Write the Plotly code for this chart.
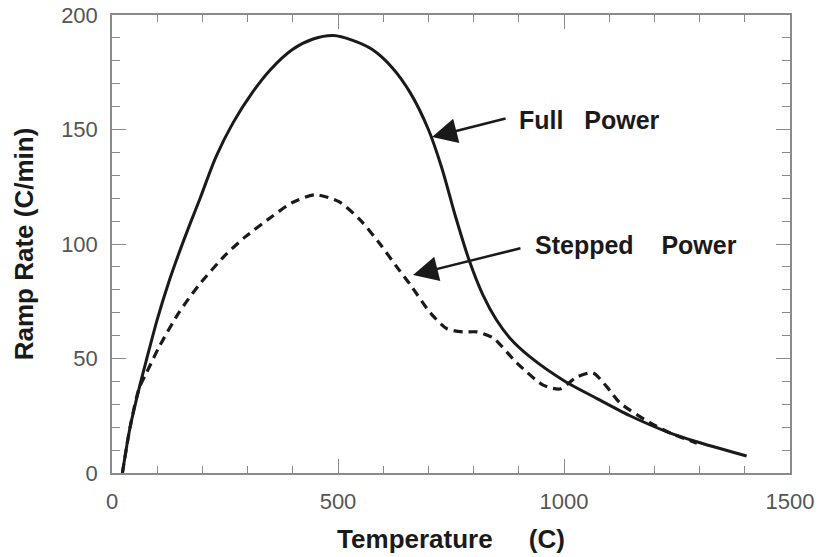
import plotly.graph_objects as go

# Full Power curve
full_x = [23, 40, 60, 77, 100, 125, 150, 175, 195, 230, 268, 310, 350, 400, 445, 490,
          531, 575, 620, 660, 700, 730, 760, 790, 820, 850, 880, 925, 1000, 1073, 1146, 1228, 1301, 1404]
full_y = [0, 20, 37, 50, 67, 83, 97, 110, 120, 138, 153, 166, 176, 185, 189.5, 191,
          189, 185, 177, 166, 150, 133, 112, 93, 78, 67, 59, 50.7, 40.3, 32.5, 25, 18, 13.2, 7.4]

# Stepped Power curve
step_x = [23, 40, 60, 77, 104, 148, 192, 250, 294, 354, 398, 449, 502, 549, 593, 630, 659, 704, 741, 777, 807, 843,
          896, 954, 991, 1029, 1064, 1095, 1124, 1190, 1235, 1294]
step_y = [0, 20, 37, 44, 55, 70, 82, 95, 103, 112, 118, 121.5, 118.5, 110.5, 100, 90, 82.5, 70, 63, 61.6, 61.6, 59,
          48, 38.4, 36.7, 42, 43.7, 37.6, 30.6, 22, 17.5, 13]

x_ticks = [0, 500, 1000, 1500]
y_ticks = [0, 50, 100, 150, 200]

FONT = "Liberation Sans, Arial, Helvetica, sans-serif"
AX = "#8a8a8a"
INK = "#1a1a1a"

fig = go.Figure()
fig.add_trace(go.Scatter(x=full_x, y=full_y, mode="lines", name="Full Power",
                         line=dict(color=INK, width=3, shape="spline", smoothing=0.8)))
fig.add_trace(go.Scatter(x=step_x, y=step_y, mode="lines", name="Stepped Power",
                         line=dict(color=INK, width=3.2, dash="9px,6px", shape="spline", smoothing=0.7)))

axis_common = dict(showgrid=False, zeroline=False, showline=True, linecolor=AX, linewidth=1.5,
                   ticks="inside", tickcolor=AX, tickwidth=1.2, mirror="allticks", automargin=False,
                   ticklabeloverflow="allow",
                   tickfont=dict(family=FONT, size=22, color="#555555"))

fig.update_xaxes(range=[0, 1500], tickvals=x_ticks, ticklen=14,
                 minor=dict(dtick=100, ticklen=7, tickcolor=AX, ticks="inside", tickwidth=1.2),
                 title=dict(text="<b>Temperature     (C)</b>", font=dict(family=FONT, size=26, color=INK), standoff=17),
                 ticklabelstandoff=8, **axis_common)
fig.update_yaxes(range=[0, 200], tickvals=y_ticks, ticklen=14,
                 minor=dict(dtick=10, ticklen=8, tickcolor=AX, ticks="inside", tickwidth=1.2),
                 title=dict(text="<b>Ramp Rate (C/min)</b>", font=dict(family=FONT, size=26, color=INK), standoff=20),
                 ticklabelstandoff=8, **axis_common)

ann_font = dict(family=FONT, size=25, color=INK)
fig.add_annotation(x=708, y=146.7, ax=874, ay=155, xref="x", yref="y", axref="x", ayref="y",
                   showarrow=True, arrowhead=2, arrowsize=2.0, arrowwidth=2.5, arrowcolor=INK, text="")
fig.add_annotation(x=666, y=86.5, ax=907, ay=98.3, xref="x", yref="y", axref="x", ayref="y",
                   showarrow=True, arrowhead=2, arrowsize=2.0, arrowwidth=2.5, arrowcolor=INK, text="")
fig.add_annotation(x=896, y=154, xref="x", yref="y", text="<b>Full   Power</b>", showarrow=False,
                   xanchor="left", yanchor="middle", font=ann_font)
fig.add_annotation(x=931, y=99.6, xref="x", yref="y", text="<b>Stepped    Power</b>", showarrow=False,
                   xanchor="left", yanchor="middle", font=ann_font)

fig.update_layout(width=819, height=557, margin=dict(l=112, r=29, t=15, b=84),
                  plot_bgcolor="white", paper_bgcolor="white", showlegend=False,
                  font=dict(family=FONT))

# remove the browser's default 8px body margin so the figure fills the window exactly
fig.write_html("out.html", config={"displayModeBar": False},
               post_script="document.body.style.margin='0px';document.body.style.overflow='hidden';")
